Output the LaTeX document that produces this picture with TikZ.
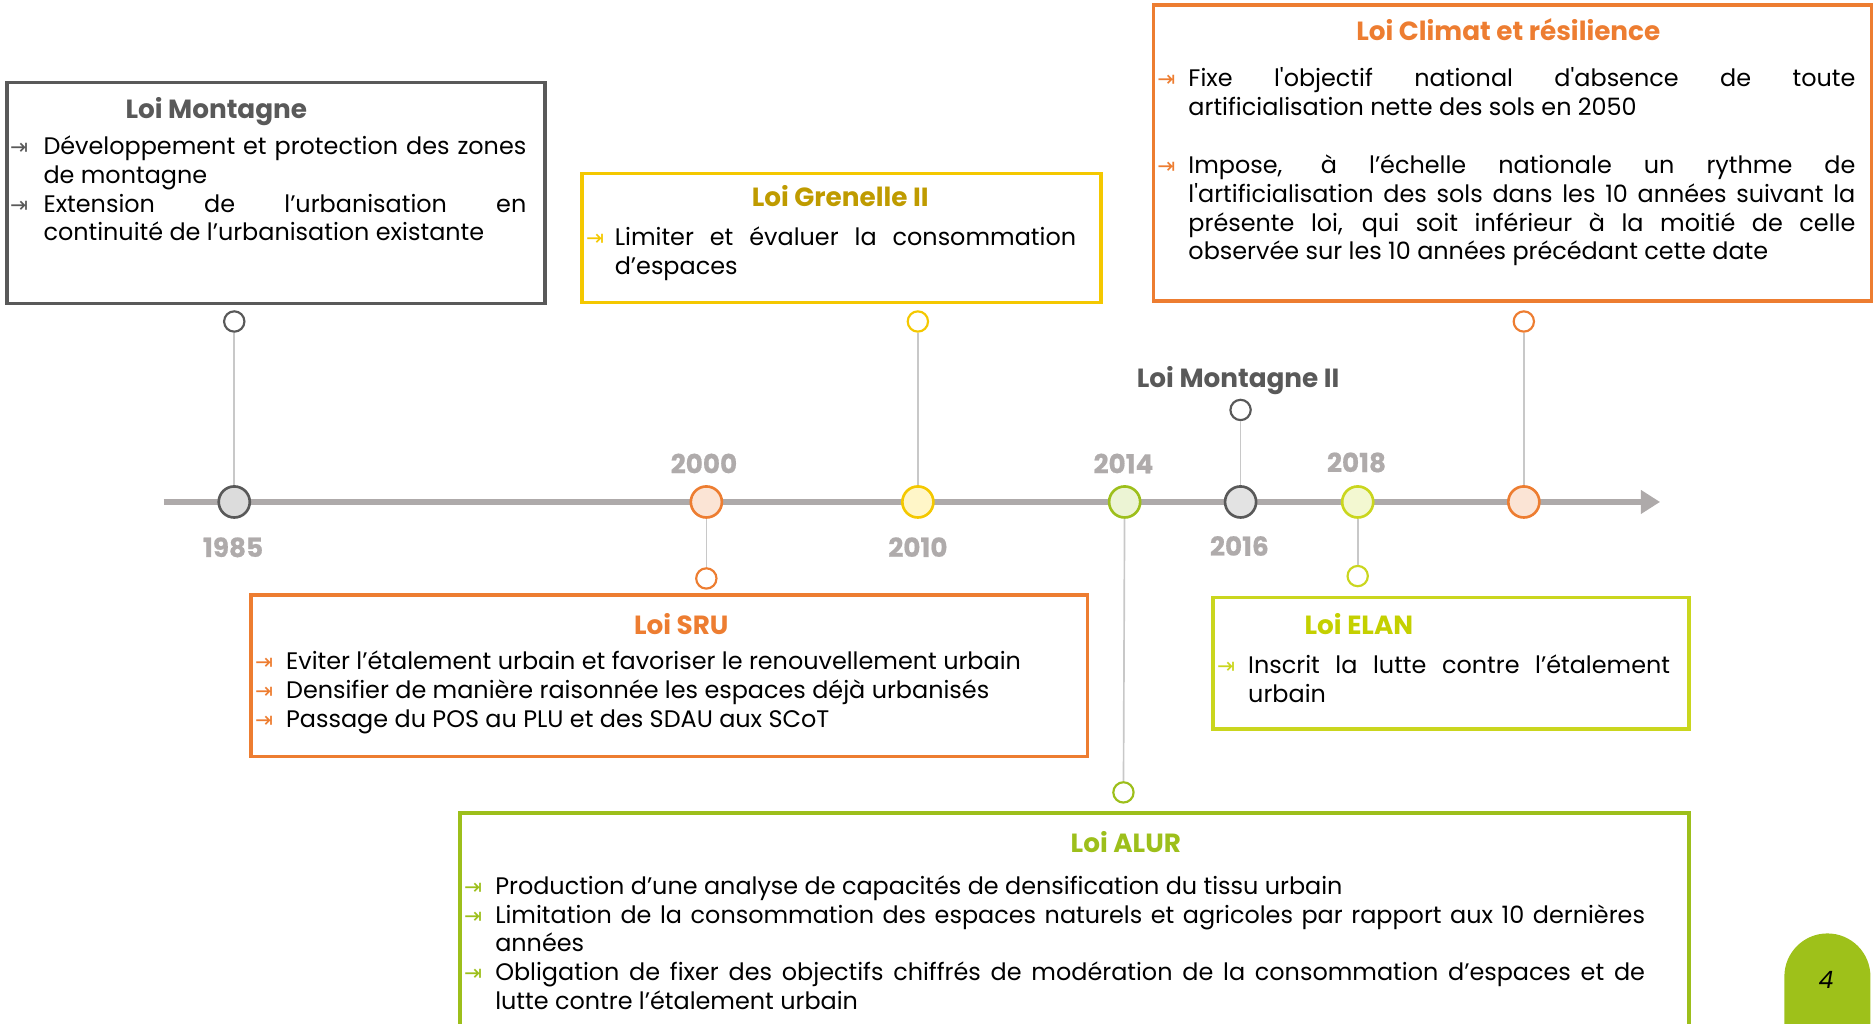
\documentclass[tikz,border=0pt]{standalone}
\usepackage{fontspec}
\setmainfont{Poppins}[Ligatures=TeXOff]
\newfontfamily\symfont{DejaVu Sans}
\newfontfamily\heavyfont{Poppins}[Ligatures=TeXOff,BoldFeatures={FakeBold=0.6}]
\usetikzlibrary{arrows.meta}
\definecolor{dgray}{HTML}{595959}
\definecolor{tlgray}{HTML}{AEAAAA}
\definecolor{conngray}{HTML}{C8C8C8}
\definecolor{yeargray}{HTML}{AFABAB}
\definecolor{orng}{HTML}{ED7D31}
\definecolor{orngfill}{HTML}{FBE4D5}
\definecolor{yel}{HTML}{F4C800}
\definecolor{yeltitle}{HTML}{BF9B00}
\definecolor{yelfill}{HTML}{FFF6C8}
\definecolor{grn}{HTML}{9DBF1B}
\definecolor{grnfill}{HTML}{ECF4D4}
\definecolor{lime}{HTML}{CAD61E}
\definecolor{limetitle}{HTML}{C4D000}
\definecolor{limefill}{HTML}{F3F8D1}
\definecolor{gfill}{HTML}{DCDCDC}
\definecolor{tabgreen}{HTML}{9EC11A}
\newlength\hangw
\newcommand\bul[2]{\par\noindent\hangindent=\hangw\hangafter=1\hbox to\hangw{\color{#1}\symfont\fontsize{9}{8}\selectfont ⇥\hfil}#2}
\tikzset{
  box/.style={draw=#1, line width=1.5pt, inner sep=0pt, rectangle},
  body/.style={anchor=north west, text width=#1, align=justify, inner sep=0pt, font=\fontsize{10}{12}\selectfont},
  ttl/.style={anchor=base, inner sep=0pt, text=#1, font=\fontsize{11}{13}\selectfont\bfseries},
  yr/.style={anchor=base, inner sep=0pt, text=yeargray, font=\heavyfont\fontsize{11}{13}\selectfont\bfseries},
  big/.style={circle, draw=#1, line width=1.1pt, minimum size=13pt, inner sep=0pt},
  small/.style={circle, draw=#1, line width=0.9pt, minimum size=8.5pt, inner sep=0pt, fill=white},
  conn/.style={draw=conngray, line width=0.7pt},
}
\begin{document}
\begin{tikzpicture}[x=0.5pt,y=-0.5pt]
\useasboundingbox (0,0) rectangle (1568,856);
\clip (0,0) rectangle (1568,856);
% timeline
\coordinate (tlS) at (137,420);
\coordinate (tlE) at (1389,420);
\draw[tlgray, line width=2.8pt, -{Triangle[length=8pt,width=9.5pt]}] (tlS) -- (tlE);
% big circles
\node[big=dgray, fill=gfill] (c85) at (196,420) {};
\node[big=orng, fill=orngfill] (c00) at (591,420) {};
\node[big=yel, fill=yelfill] (c10) at (768,420) {};
\node[big=grn, fill=grnfill] (c14) at (941,420) {};
\node[big=dgray, fill=gfill!80!white] (c16) at (1038,420) {};
\node[big=lime, fill=limefill] (c18) at (1136,420) {};
\node[big=orng, fill=orngfill] (c21) at (1275,420) {};
% small circles
\node[small=dgray] (s85) at (196,269) {};
\node[small=orng] (s00) at (591,484) {};
\node[small=yel] (s10) at (768,269) {};
\node[small=grn] (s14) at (940,663) {};
\node[small=dgray] (s16) at (1038,343) {};
\node[small=lime] (s18) at (1136,482) {};
\node[small=orng] (s21) at (1275,269) {};
% connectors
\draw[conn] (s85) -- (c85);
\draw[conn] (c00) -- (s00);
\draw[conn] (s10) -- (c10);
\draw[conn] (c14) -- (s14);
\draw[conn] (s16) -- (c16);
\draw[conn] (c18) -- (s18);
\draw[conn] (s21) -- (c21);
% years
\node[yr] (y85) at (195,466) {1985};
\node[yr] (y00) at (589,396) {2000};
\node[yr] (y10) at (768,466) {2010};
\node[yr] (y14) at (940,396) {2014};
\node[yr] (y16) at (1037,465) {2016};
\node[yr] (y18) at (1135,395) {2018};
\node[ttl=dgray] (tM2) at (1036,324) {Loi Montagne II};
% boxes
\node[box=dgray, minimum width=225pt, minimum height=92.5pt] (bM) at (231,161.5) {};
\node[box=yel, minimum width=217pt, minimum height=54pt] (bG) at (704,199) {};
\node[box=orng, minimum width=300.5pt, minimum height=124pt] (bC) at (1265.5,128) {};
\node[box=orng, minimum width=350pt, minimum height=67.5pt] (bS) at (560,565.5) {};
\node[box=lime, minimum width=199pt, minimum height=55pt] (bE) at (1214,555) {};
\node[box=grn, minimum width=514pt, minimum height=110pt] (bA) at (899,790) {};
% titles
\node[ttl=dgray] (tM) at (181,99) {Loi Montagne};
\node[ttl=yeltitle] (tG) at (703,173) {Loi Grenelle II};
\node[ttl=orng] (tC) at (1262,34) {Loi Climat et résilience};
\node[ttl=orng] (tS) at (570,531) {Loi SRU};
\node[ttl=limetitle] (tE) at (1137,531) {Loi ELAN};
\node[ttl=grn] (tA) at (942,713) {Loi ALUR};
% bodies
\node[body=216pt, execute at begin node={\setlength\hangw{14pt}}] (xM) at (8,105) {%
\bul{dgray}{Développement et protection des zones\linebreak de montagne}%
\bul{dgray}{Extension de l’urbanisation en\linebreak continuité de l’urbanisation existante}\par};
\node[body=205pt, execute at begin node={\setlength\hangw{12pt}}] (xG) at (490,181) {%
\bul{yel}{Limiter et évaluer la consommation\linebreak d’espaces}\par};
\node[body=292pt, execute at begin node={\setlength\hangw{13pt}}] (xC) at (968,48) {%
\bul{orng}{Fixe l'objectif national d'absence de toute\linebreak artificialisation nette des sols en 2050}%
\par\vskip 12.5pt
\bul{orng}{Impose, à l’échelle nationale un rythme de\linebreak l'artificialisation des sols dans les 10 années suivant la\linebreak présente loi, qui soit inférieur à la moitié de celle\linebreak observée sur les 10 années précédant cette date}\par};
\node[body=341pt, execute at begin node={\setlength\hangw{13pt}}] (xS) at (213,536) {%
\bul{orng}{Eviter l’étalement urbain et favoriser le renouvellement urbain}%
\bul{orng}{Densifier de manière raisonnée les espaces déjà urbanisés}%
\bul{orng}{Passage du POS au PLU et des SDAU aux SCoT}\par};
\node[body=189.5pt, execute at begin node={\setlength\hangw{13pt}}] (xE) at (1018,539) {%
\bul{lime}{Inscrit la lutte contre l’étalement\linebreak urbain}\par};
\node[body=494pt, execute at begin node={\setlength\hangw{13pt}}] (xA) at (388,724) {%
\bul{grn}{Production d’une analyse de capacités de densification du tissu urbain}%
\bul{grn}{Limitation de la consommation des espaces naturels et agricoles par rapport aux 10 dernières\linebreak années}%
\bul{grn}{Obligation de fixer des objectifs chiffrés de modération de la consommation d’espaces et de\linebreak lutte contre l’étalement urbain}\par};
% page tab
\fill[tabgreen] (1493,860) -- (1493,817) .. controls (1493,797.1) and (1509.1,781) .. (1529,781) .. controls (1548.9,781) and (1565,797.1) .. (1565,817) -- (1565,860) -- cycle;
\node[inner sep=0pt, font=\fontsize{10}{12}\selectfont\itshape] (pg) at (1528,820) {4};
\end{tikzpicture}
\end{document}
